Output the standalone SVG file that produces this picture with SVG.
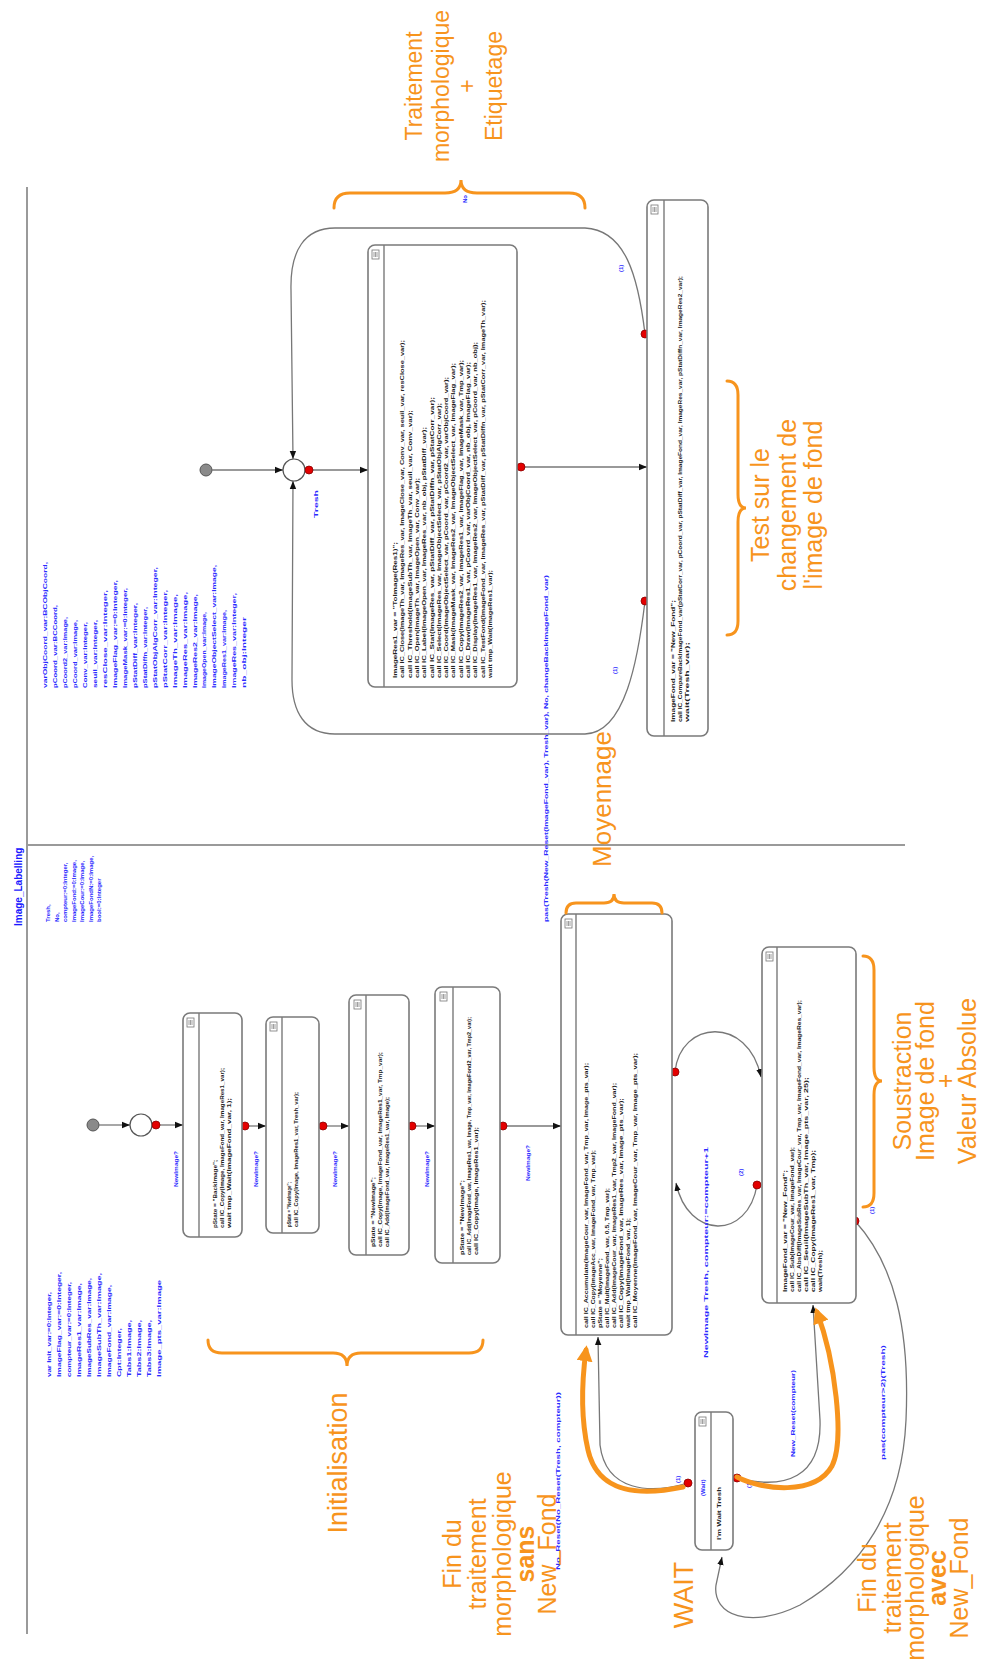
<svg xmlns="http://www.w3.org/2000/svg" width="992" height="1675" viewBox="0 0 992 1675">
<defs>
<style>
.frame{stroke:#9a9a9a;stroke-width:2;fill:none}
.nd{fill:#fff;stroke:#7a7a7a;stroke-width:1.6}
.hd{stroke:#7a7a7a;stroke-width:1.4}
.cn{fill:none;stroke:#777;stroke-width:1.3}
.dot{fill:#e30000;stroke:#8a0000;stroke-width:0.8}
.t{font-family:"Liberation Sans",Arial,sans-serif;font-size:6px;font-weight:bold;fill:#222}
.b{font-family:"Liberation Sans",Arial,sans-serif;font-size:6px;font-weight:bold;fill:#2a2aff}
.ttl{font-family:"Liberation Sans",Arial,sans-serif;font-size:10px;font-weight:bold;fill:#1a1aff}
.ann{font-family:"Liberation Sans",Arial,sans-serif;font-size:25px;fill:#F7941D;text-anchor:middle}
.br{fill:none;stroke:#F7941D;stroke-width:3;stroke-linecap:round}
.oa{fill:none;stroke:#F7941D;stroke-width:5;stroke-linecap:round}
</style>
<marker id="ah" viewBox="0 0 10 10" refX="10" refY="5" markerWidth="8" markerHeight="8" markerUnits="userSpaceOnUse" orient="auto"><path d="M0,1 L10,5 L0,9 z" fill="#111"/></marker>
<marker id="oh" viewBox="0 0 10 10" refX="7" refY="5" markerWidth="16" markerHeight="16" markerUnits="userSpaceOnUse" orient="auto"><path d="M0,0 L10,5 L0,10 z" fill="#F7941D"/></marker>
<g id="ico"><rect x="0" y="0" width="7" height="9" fill="#fff" stroke="#777" stroke-width="0.8"/><path d="M2,2 V7 M3.5,2 V7 M5,2 V7" stroke="#777" stroke-width="0.7"/></g>
</defs>
<rect width="992" height="1675" fill="#fff"/>

<!-- frame lines -->
<g id="frame">
<line class="frame" x1="27" y1="187" x2="27" y2="1634"/>
<line class="frame" x1="27" y1="845" x2="905" y2="845"/>
<text class="ttl" transform="translate(22,926) rotate(-90)">Image_Labelling</text>
</g>

<!-- declarations -->
<g id="decl-a" class="b" transform="translate(50,922) rotate(-90)">
<text x="0" y="0">Tresh,</text>
<text x="0" y="8.5">No,</text>
<text x="0" y="17">compteur:=0:Integer,</text>
<text x="0" y="25.5">ImageFond:=0:Image,</text>
<text x="0" y="34">ImageCour:=0:Image,</text>
<text x="0" y="42.5">ImageFondN:=0:Image,</text>
<text x="0" y="51">bool:=0:Integer</text>
</g>
<g id="decl-b" class="b" transform="translate(50.5,1377) rotate(-90)">
<text x="0" y="0" textLength="85" lengthAdjust="spacingAndGlyphs">var Init_var:=0:Integer,</text>
<text x="0" y="10" textLength="105" lengthAdjust="spacingAndGlyphs">ImageFlag_var:=0:Integer,</text>
<text x="0" y="20" textLength="95" lengthAdjust="spacingAndGlyphs">compteur_var:=0:Integer,</text>
<text x="0" y="30" textLength="94" lengthAdjust="spacingAndGlyphs">ImageRes1_var:Image,</text>
<text x="0" y="40" textLength="99" lengthAdjust="spacingAndGlyphs">ImageSubRes_var:Image,</text>
<text x="0" y="50" textLength="104" lengthAdjust="spacingAndGlyphs">ImageSubTh_var:Image,</text>
<text x="0" y="60" textLength="92" lengthAdjust="spacingAndGlyphs">ImageFond_var:Image,</text>
<text x="0" y="70" textLength="49" lengthAdjust="spacingAndGlyphs">Cpt:Integer,</text>
<text x="0" y="80" textLength="57" lengthAdjust="spacingAndGlyphs">Tabs1:Image,</text>
<text x="0" y="90" textLength="57" lengthAdjust="spacingAndGlyphs">Tabs2:Image,</text>
<text x="0" y="100" textLength="57" lengthAdjust="spacingAndGlyphs">Tabs3:Image,</text>
<text x="0" y="110" textLength="97" lengthAdjust="spacingAndGlyphs">Image_pts_var:Image</text>
</g>
<g id="decl-c" class="b" transform="translate(46.5,688) rotate(-90)">
<text x="0" y="0" textLength="126" lengthAdjust="spacingAndGlyphs">varObjCoord_var:BCObjCoord,</text>
<text x="0" y="10" textLength="83" lengthAdjust="spacingAndGlyphs">pCoord_var:BCCoord,</text>
<text x="0" y="20" textLength="71" lengthAdjust="spacingAndGlyphs">pCoord2_var:Image,</text>
<text x="0" y="30" textLength="68" lengthAdjust="spacingAndGlyphs">pCoord_var:Image,</text>
<text x="0" y="40" textLength="66" lengthAdjust="spacingAndGlyphs">Conv_var:Integer,</text>
<text x="0" y="50" textLength="68" lengthAdjust="spacingAndGlyphs">seuil_var:Integer,</text>
<text x="0" y="60" textLength="98" lengthAdjust="spacingAndGlyphs">resClose_var:Integer,</text>
<text x="0" y="70" textLength="108" lengthAdjust="spacingAndGlyphs">ImageFlag_var:=0:Integer,</text>
<text x="0" y="80" textLength="100" lengthAdjust="spacingAndGlyphs">ImageMask_var:=0:Integer,</text>
<text x="0" y="90" textLength="85" lengthAdjust="spacingAndGlyphs">pStatDiff_var:Integer,</text>
<text x="0" y="100" textLength="81" lengthAdjust="spacingAndGlyphs">pStatDiffn_var:Integer,</text>
<text x="0" y="110" textLength="121" lengthAdjust="spacingAndGlyphs">pStatObjAlgCorr_var:Integer,</text>
<text x="0" y="120" textLength="98" lengthAdjust="spacingAndGlyphs">pStatCorr_var:Integer,</text>
<text x="0" y="130" textLength="94" lengthAdjust="spacingAndGlyphs">ImageTh_var:Image,</text>
<text x="0" y="140" textLength="96" lengthAdjust="spacingAndGlyphs">ImageRes_var:Image,</text>
<text x="0" y="150" textLength="94" lengthAdjust="spacingAndGlyphs">ImageRes2_var:Image,</text>
<text x="0" y="159" textLength="76" lengthAdjust="spacingAndGlyphs">ImageOpen_var:Image,</text>
<text x="0" y="169" textLength="123" lengthAdjust="spacingAndGlyphs">ImageObjectSelect_var:Image,</text>
<text x="0" y="179" textLength="78" lengthAdjust="spacingAndGlyphs">ImageRes1_var:Image,</text>
<text x="0" y="189" textLength="95" lengthAdjust="spacingAndGlyphs">ImageRes_var:Integer,</text>
<text x="0" y="199" textLength="71" lengthAdjust="spacingAndGlyphs">nb_obj:Integer</text>
</g>

<!-- connectors -->
<g id="connectors">
<circle cx="93" cy="1125" r="6" fill="#8a8a8a" stroke="#555" stroke-width="1"/>
<line class="cn" x1="99" y1="1125" x2="130" y2="1125" marker-end="url(#ah)"/>
<circle cx="141" cy="1125" r="11" fill="#fff" stroke="#555" stroke-width="1.2"/>
<line class="cn" x1="156" y1="1125" x2="183" y2="1125" marker-end="url(#ah)"/>
<line class="cn" x1="245" y1="1126" x2="266" y2="1126" marker-end="url(#ah)"/>
<line class="cn" x1="323" y1="1126" x2="349" y2="1126" marker-end="url(#ah)"/>
<line class="cn" x1="412" y1="1126" x2="435" y2="1126" marker-end="url(#ah)"/>
<line class="cn" x1="503" y1="1126" x2="561" y2="1126" marker-end="url(#ah)"/>
<path class="cn" d="M675,1072 C680,1020 748,1015 761,1077" marker-end="url(#ah)"/>
<path class="cn" d="M757,1185 C748,1240 688,1240 676,1183" marker-end="url(#ah)"/>
<path class="cn" d="M688,1483 C650,1494 606,1492 600,1445 L598,1337" marker-end="url(#ah)"/>
<path class="cn" d="M737,1478 C785,1490 822,1478 820,1420 L813,1305" marker-end="url(#ah)"/>
<path class="cn" d="M855,1221 C895,1265 910,1330 906,1420 C902,1510 860,1570 800,1605 C750,1630 712,1615 716,1585 L722,1557" marker-end="url(#ah)"/>
<circle cx="206" cy="470" r="6" fill="#8a8a8a" stroke="#555" stroke-width="1"/>
<line class="cn" x1="212" y1="470" x2="283" y2="470" marker-end="url(#ah)"/>
<circle cx="294" cy="470" r="11" fill="#fff" stroke="#555" stroke-width="1.2"/>
<line class="cn" x1="309" y1="470" x2="368" y2="470" marker-end="url(#ah)"/>
<line class="cn" x1="521" y1="467" x2="647" y2="467" marker-end="url(#ah)"/>
<path class="cn" d="M645,334 C638,275 625,230 585,228 L335,228 C305,228 290,250 291,290 L293,459" marker-end="url(#ah)"/>
<path class="cn" d="M645,601 C638,660 625,733 585,734 L335,734 C305,734 292,712 292,680 L293,481" marker-end="url(#ah)"/>
<circle class="dot" cx="156" cy="1125" r="4"/>
<circle class="dot" cx="245" cy="1126" r="4"/>
<circle class="dot" cx="323" cy="1126" r="4"/>
<circle class="dot" cx="412" cy="1126" r="4"/>
<circle class="dot" cx="503" cy="1126" r="4"/>
<circle class="dot" cx="675" cy="1072" r="4"/>
<circle class="dot" cx="757" cy="1185" r="4"/>
<circle class="dot" cx="855" cy="1221" r="4"/>
<circle class="dot" cx="688" cy="1483" r="4"/>
<circle class="dot" cx="737" cy="1478" r="4"/>
<circle class="dot" cx="309" cy="470" r="4"/>
<circle class="dot" cx="521" cy="467" r="4"/>
<circle class="dot" cx="645" cy="334" r="4"/>
<circle class="dot" cx="645" cy="601" r="4"/>
<g class="b">
<text transform="translate(178,1187) rotate(-90)" textLength="36" lengthAdjust="spacingAndGlyphs">NewImage?</text>
<text transform="translate(258,1187) rotate(-90)" textLength="36" lengthAdjust="spacingAndGlyphs">NewImage?</text>
<text transform="translate(337,1187) rotate(-90)" textLength="36" lengthAdjust="spacingAndGlyphs">NewImage?</text>
<text transform="translate(429,1187) rotate(-90)" textLength="36" lengthAdjust="spacingAndGlyphs">NewImage?</text>
<text transform="translate(530,1181) rotate(-90)" textLength="36" lengthAdjust="spacingAndGlyphs">NewImage?</text>
<text transform="translate(743,1176) rotate(-90)">(2)</text>
<text transform="translate(708,1358) rotate(-90)" textLength="211" lengthAdjust="spacingAndGlyphs">NewImage Tresh, compteur:=compteur+1</text>
<text transform="translate(560,1570) rotate(-90)" textLength="178" lengthAdjust="spacingAndGlyphs">No_Reset(No_Reset(Tresh, compteur))</text>
<text transform="translate(680,1483) rotate(-90)">(1)</text>
<text transform="translate(751,1488) rotate(-90)">(1)</text>
<text transform="translate(795,1457) rotate(-90)" textLength="87" lengthAdjust="spacingAndGlyphs">New_Reset(compteur)</text>
<text transform="translate(885,1460) rotate(-90)" textLength="115" lengthAdjust="spacingAndGlyphs">pas(compteur&gt;2)(Tresh)</text>
<text transform="translate(874,1214) rotate(-90)">(1)</text>
<text transform="translate(318,518) rotate(-90)" textLength="28" lengthAdjust="spacingAndGlyphs">Tresh</text>
<text transform="translate(467,203) rotate(-90)">No</text>
<text transform="translate(623,272) rotate(-90)">(1)</text>
<text transform="translate(617,674) rotate(-90)">(1)</text>
<text transform="translate(548,922) rotate(-90)" textLength="347" lengthAdjust="spacingAndGlyphs">pas(Tresh(New_Reset(ImageFond_var), Tresh_var), No, changeBackImageFond_var)</text>
</g>
</g>

<!-- nodes bottom -->
<g id="n1">
<rect class="nd" x="183" y="1013" width="59" height="224" rx="7"/>
<line class="hd" x1="199" y1="1013" x2="199" y2="1237"/>
<use href="#ico" x="187" y="1018"/>
<g class="t" transform="translate(217,1228) rotate(-90)">
<text x="0" y="0" textLength="68" lengthAdjust="spacingAndGlyphs">pState = "BackImage";</text>
<text x="0" y="7" textLength="160" lengthAdjust="spacingAndGlyphs">call IC_Copy(Image, ImageFond_var, ImageRes1_var);</text>
<text x="0" y="14" textLength="130" lengthAdjust="spacingAndGlyphs">wait tmp_Wait(ImageFond_var, 1);</text>
</g>
</g>
<g id="n2">
<rect class="nd" x="266" y="1017" width="53" height="216" rx="7"/>
<line class="hd" x1="282" y1="1017" x2="282" y2="1233"/>
<use href="#ico" x="270" y="1022"/>
<g class="t" transform="translate(291,1227) rotate(-90)">
<text x="0" y="0" textLength="45" lengthAdjust="spacingAndGlyphs">pState = "NewImage";</text>
<text x="0" y="7" textLength="135" lengthAdjust="spacingAndGlyphs">call IC_Copy(Image, ImageRes1_var, Tresh_var);</text>
</g>
</g>
<g id="n3">
<rect class="nd" x="349" y="995" width="60" height="260" rx="7"/>
<line class="hd" x1="366" y1="995" x2="366" y2="1255"/>
<use href="#ico" x="354" y="1000"/>
<g class="t" transform="translate(375,1247) rotate(-90)">
<text x="0" y="0" textLength="70" lengthAdjust="spacingAndGlyphs">pState = "NewImage";</text>
<text x="0" y="7" textLength="195" lengthAdjust="spacingAndGlyphs">call IC_Copy(Image, ImageFond_var, ImageRes1_var, Tmp_var);</text>
<text x="0" y="14" textLength="150" lengthAdjust="spacingAndGlyphs">call IC_Add(ImageFond_var, ImageRes1_var, Image);</text>
</g>
</g>
<g id="n4">
<rect class="nd" x="435" y="987" width="65" height="276" rx="7"/>
<line class="hd" x1="453" y1="987" x2="453" y2="1263"/>
<use href="#ico" x="440" y="992"/>
<g class="t" transform="translate(464,1255) rotate(-90)">
<text x="0" y="0" textLength="75" lengthAdjust="spacingAndGlyphs">pState = "NewImage";</text>
<text x="0" y="7" textLength="238" lengthAdjust="spacingAndGlyphs">call IC_Add(ImageFond_var, ImageRes1_var, Image, Tmp_var, ImageFond2_var, Tmp2_var);</text>
<text x="0" y="14" textLength="128" lengthAdjust="spacingAndGlyphs">call IC_Copy(Image, ImageRes1_var);</text>
</g>
</g>
<g id="n5">
<rect class="nd" x="561" y="914" width="111" height="421" rx="7"/>
<line class="hd" x1="576" y1="914" x2="576" y2="1335"/>
<use href="#ico" x="565" y="919"/>
<g class="t" transform="translate(588,1328) rotate(-90)">
<text x="0" y="0" textLength="265" lengthAdjust="spacingAndGlyphs">call IC_Accumulate(ImageCour_var, ImageFond_var, Tmp_var, Image_pts_var);</text>
<text x="0" y="7" textLength="178" lengthAdjust="spacingAndGlyphs">call IC_Copy(ImageAcc_var, ImageFond_var, Tmp_var);</text>
<text x="0" y="14" textLength="70" lengthAdjust="spacingAndGlyphs">pState = "Moyenne";</text>
<text x="0" y="21" textLength="140" lengthAdjust="spacingAndGlyphs">call IC_Mult(ImageFond_var, 0.5, Tmp_var);</text>
<text x="0" y="28" textLength="245" lengthAdjust="spacingAndGlyphs">call IC_Add(ImageCour_var, ImageRes1_var, Tmp2_var, ImageFond_var);</text>
<text x="0" y="35" textLength="230" lengthAdjust="spacingAndGlyphs">call IC_Copy(ImageFond_var, ImageRes_var, Image_pts_var);</text>
<text x="0" y="42" textLength="110" lengthAdjust="spacingAndGlyphs">wait tmp_Wait(ImageFond_var, 1);</text>
<text x="0" y="49" textLength="275" lengthAdjust="spacingAndGlyphs">call IC_Moyenne(ImageFond_var, ImageCour_var, Tmp_var, Image_pts_var);</text>
</g>
</g>
<g id="n6">
<rect class="nd" x="762" y="947" width="94" height="356" rx="7"/>
<line class="hd" x1="777" y1="947" x2="777" y2="1303"/>
<use href="#ico" x="766" y="952"/>
<g class="t" transform="translate(787,1292) rotate(-90)">
<text x="0" y="0" textLength="122" lengthAdjust="spacingAndGlyphs">ImageFond_var = "New_Fond";</text>
<text x="0" y="7" textLength="145" lengthAdjust="spacingAndGlyphs">call IC_Sub(ImageCour_var, ImageFond_var);</text>
<text x="0" y="14" textLength="292" lengthAdjust="spacingAndGlyphs">call IC_AbsDiff(ImageSubRes_var, ImageCour_var, Tmp_var, ImageFond_var, ImageRes_var);</text>
<text x="0" y="21" textLength="215" lengthAdjust="spacingAndGlyphs">call IC_Seuil(ImageSubTh_var, Image_pts_var, 25);</text>
<text x="0" y="28" textLength="142" lengthAdjust="spacingAndGlyphs">call IC_Copy(ImageRes1_var, Tmp);</text>
<text x="0" y="35" textLength="42" lengthAdjust="spacingAndGlyphs">wait(Tresh);</text>
</g>
</g>
<g id="wait">
<rect class="nd" x="695" y="1412" width="38" height="138" rx="7"/>
<line class="hd" x1="711" y1="1412" x2="711" y2="1550"/>
<use href="#ico" x="699" y="1417"/>
<text class="b" transform="translate(705,1496) rotate(-90)">(Wait)</text>
<text class="t" transform="translate(721,1540) rotate(-90)" textLength="53" lengthAdjust="spacingAndGlyphs">I'm Wait Tresh</text>
</g>

<!-- nodes top -->
<g id="n7">
<rect class="nd" x="368" y="245" width="149" height="442" rx="7"/>
<line class="hd" x1="384" y1="245" x2="384" y2="687"/>
<use href="#ico" x="372" y="250"/>
<g class="t" transform="translate(397,678) rotate(-90)">
<text x="0" y="0" textLength="136" lengthAdjust="spacingAndGlyphs">ImageRes1_var = "ToImage(Res1)";</text>
<text x="0" y="7.3" textLength="338" lengthAdjust="spacingAndGlyphs">call IC_Close(ImageTh_var, ImageRes_var, ImageClose_var, Conv_var, seuil_var, resClose_var);</text>
<text x="0" y="14.6" textLength="268" lengthAdjust="spacingAndGlyphs">call IC_Threshold(ImageSubTh_var, ImageTh_var, seuil_var, Conv_var);</text>
<text x="0" y="21.9" textLength="200" lengthAdjust="spacingAndGlyphs">call IC_Open(ImageTh_var, ImageOpen_var, Conv_var);</text>
<text x="0" y="29.2" textLength="251" lengthAdjust="spacingAndGlyphs">call IC_Label(ImageOpen_var, ImageRes_var, nb_obj, pStatDiff_var);</text>
<text x="0" y="36.5" textLength="281" lengthAdjust="spacingAndGlyphs">call IC_Stat(ImageRes_var, pStatDiff_var, pStatDiffn_var, pStatCorr_var);</text>
<text x="0" y="43.8" textLength="275" lengthAdjust="spacingAndGlyphs">call IC_Select(ImageRes_var, ImageObjectSelect_var, pStatObjAlgCorr_var);</text>
<text x="0" y="51.1" textLength="301" lengthAdjust="spacingAndGlyphs">call IC_Coord(ImageObjectSelect_var, pCoord_var, pCoord2_var, varObjCoord_var);</text>
<text x="0" y="58.4" textLength="315" lengthAdjust="spacingAndGlyphs">call IC_Mask(ImageMask_var, ImageRes2_var, ImageObjectSelect_var, ImageFlag_var);</text>
<text x="0" y="65.7" textLength="318" lengthAdjust="spacingAndGlyphs">call IC_Copy(ImageRes2_var, ImageRes1_var, ImageFlag_var, ImageMask_var, Tmp_var);</text>
<text x="0" y="73" textLength="316" lengthAdjust="spacingAndGlyphs">call IC_Draw(ImageRes1_var, pCoord_var, varObjCoord_var, nb_obj, ImageFlag_var);</text>
<text x="0" y="80.3" textLength="336" lengthAdjust="spacingAndGlyphs">call IC_Display(ImageRes1_var, ImageRes2_var, ImageObjectSelect_var, pCoord_var, nb_obj);</text>
<text x="0" y="87.6" textLength="378" lengthAdjust="spacingAndGlyphs">call IC_TestFond(ImageFond_var, ImageRes_var, pStatDiff_var, pStatDiffn_var, pStatCorr_var, ImageTh_var);</text>
<text x="0" y="94.9" textLength="108" lengthAdjust="spacingAndGlyphs">wait tmp_Wait(ImageRes1_var);</text>
</g>
</g>
<g id="n8">
<rect class="nd" x="647" y="200" width="61" height="536" rx="7"/>
<line class="hd" x1="664" y1="200" x2="664" y2="736"/>
<use href="#ico" x="651" y="205"/>
<g class="t" transform="translate(675,722) rotate(-90)">
<text x="0" y="0" textLength="122" lengthAdjust="spacingAndGlyphs">ImageFond_var = "New_Fond";</text>
<text x="0" y="7" textLength="446" lengthAdjust="spacingAndGlyphs">call IC_CompareBackImageFond_var(pStatCorr_var, pCoord_var, pStatDiff_var, ImageFond_var, ImageRes_var, pStatDiffn_var, ImageRes2_var);</text>
<text x="0" y="14" textLength="80" lengthAdjust="spacingAndGlyphs">wait(Tresh_var);</text>
</g>
</g>

<!-- orange annotations -->
<g id="annotations">
<path class="br" d="M334,208 Q334,193 350,193 L445,193 Q461,193 461,180 Q461,193 477,193 L569,193 Q585,193 585,208"/>
<path class="br" d="M566,913 Q566,903 576,903 L604,903 Q614,903 614,894 Q614,903 624,903 L652,903 Q662,903 662,913"/>
<path class="br" d="M727,381 Q738,381 738,395 L738,494 Q738,508 746,508 Q738,508 738,522 L738,621 Q738,635 727,635"/>
<path class="br" d="M863,956 Q874,956 874,970 L874,1067 Q874,1081 882,1081 Q874,1081 874,1095 L874,1193 Q874,1207 863,1207"/>
<path class="br" d="M208,1340 Q208,1353 222,1353 L333,1353 Q347,1353 347,1366 Q347,1353 361,1353 L469,1353 Q483,1353 483,1340"/>
<path class="oa" d="M683,1487 C640,1496 598,1494 588,1450 C580,1415 582,1380 586,1350" marker-end="url(#oh)"/>
<path class="oa" d="M737,1477 C762,1490 815,1496 832,1466 C845,1440 835,1360 817,1312" marker-end="url(#oh)"/>
<g class="ann" style="font-size:23px" transform="translate(422,86) rotate(-90)">
<text x="0" y="0">Traitement</text>
<text x="0" y="27">morphologique</text>
<text x="0" y="53">+</text>
<text x="0" y="80">Etiquetage</text>
</g>
<g class="ann" transform="translate(769,505) rotate(-90)">
<text x="0" y="0">Test sur le</text>
<text x="0" y="27">changement de</text>
<text x="0" y="53">l'image de fond</text>
</g>
<text class="ann" style="font-size:26px" transform="translate(611,799) rotate(-90)">Moyennage</text>
<g class="ann" transform="translate(911,1081) rotate(-90)">
<text x="0" y="0">Soustraction</text>
<text x="0" y="23">Image de fond</text>
<text x="0" y="43">+</text>
<text x="0" y="65">Valeur Absolue</text>
</g>
<text class="ann" style="font-size:27px" transform="translate(347,1463) rotate(-90)">Initialisation</text>
<g class="ann" transform="translate(461,1554) rotate(-90)">
<text x="0" y="0">Fin du</text>
<text x="0" y="25">traitement</text>
<text x="0" y="50">morphologique</text>
<text x="0" y="73" font-weight="bold">sans</text>
<text x="0" y="95">New_Fond</text>
</g>
<text class="ann" style="font-size:27px" transform="translate(693,1595) rotate(-90)">WAIT</text>
<g class="ann" transform="translate(876,1578) rotate(-90)">
<text x="0" y="0">Fin du</text>
<text x="0" y="25">traitement</text>
<text x="0" y="48">morphologique</text>
<text x="0" y="70" font-weight="bold">avec</text>
<text x="0" y="92">New_Fond</text>
</g>
</g>
</svg>
